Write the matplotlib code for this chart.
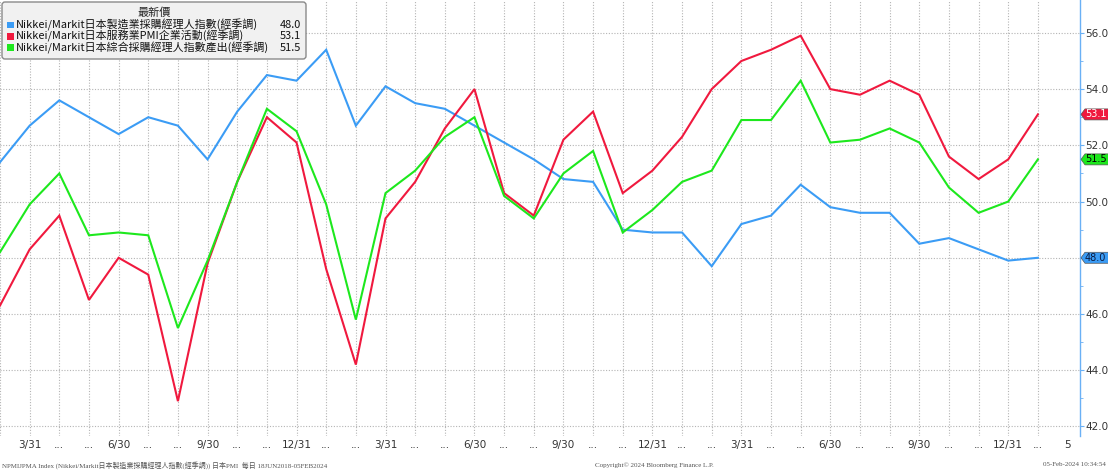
import numpy as np
import matplotlib.pyplot as plt
from matplotlib.patches import FancyBboxPatch, Polygon, Rectangle

plt.rcParams['font.family'] = ['DejaVu Sans', 'Noto Sans CJK TC']

# Monthly PMI readings, Feb 2021 .. Jan 2024
months = ['2021-02', '2021-03', '2021-04', '2021-05', '2021-06', '2021-07',
          '2021-08', '2021-09', '2021-10', '2021-11', '2021-12', '2022-01',
          '2022-02', '2022-03', '2022-04', '2022-05', '2022-06', '2022-07',
          '2022-08', '2022-09', '2022-10', '2022-11', '2022-12', '2023-01',
          '2023-02', '2023-03', '2023-04', '2023-05', '2023-06', '2023-07',
          '2023-08', '2023-09', '2023-10', '2023-11', '2023-12', '2024-01']
mfg = [51.4, 52.7, 53.6, 53.0, 52.4, 53.0, 52.7, 51.5, 53.2, 54.5, 54.3, 55.4,
       52.7, 54.1, 53.5, 53.3, 52.7, 52.1, 51.5, 50.8, 50.7, 49.0, 48.9, 48.9,
       47.7, 49.2, 49.5, 50.6, 49.8, 49.6, 49.6, 48.5, 48.7, 48.3, 47.9, 48.0]
svc = [46.3, 48.3, 49.5, 46.5, 48.0, 47.4, 42.9, 47.8, 50.7, 53.0, 52.1, 47.6,
       44.2, 49.4, 50.7, 52.6, 54.0, 50.3, 49.5, 52.2, 53.2, 50.3, 51.1, 52.3,
       54.0, 55.0, 55.4, 55.9, 54.0, 53.8, 54.3, 53.8, 51.6, 50.8, 51.5, 53.1]
comp = [48.2, 49.9, 51.0, 48.8, 48.9, 48.8, 45.5, 47.9, 50.7, 53.3, 52.5, 49.9,
        45.8, 50.3, 51.1, 52.3, 53.0, 50.2, 49.4, 51.0, 51.8, 48.9, 49.7, 50.7,
        51.1, 52.9, 52.9, 54.3, 52.1, 52.2, 52.6, 52.1, 50.5, 49.6, 50.0, 51.5]

names = ['Nikkei/Markit日本製造業採購經理人指數(經季調)',
         'Nikkei/Markit日本服務業PMI企業活動(經季調)',
         'Nikkei/Markit日本綜合採購經理人指數產出(經季調)']
latest = [48.0, 53.1, 51.5]
colors = ['#3b9cf5', '#f0193e', '#1de81d']
badge_text = ['#0a1a40', 'white', 'black']

x_labels = ['3/31', '...', '...', '6/30', '...', '...', '9/30', '...', '...',
            '12/31', '...', '...', '3/31', '...', '...', '6/30', '...', '...',
            '9/30', '...', '...', '12/31', '...', '...', '3/31', '...', '...',
            '6/30', '...', '...', '9/30', '...', '...', '12/31', '...', '5']

W, H = 1108, 470
fig = plt.figure(figsize=(W / 100, H / 100), dpi=100)
ax = fig.add_axes([0, (H - 436) / H, 1080 / W, 436 / H])

x = np.arange(len(months))
for vals, c in zip([mfg, svc, comp], colors):
  ax.plot(x, vals, color=c, lw=1.5, solid_joinstyle='miter', zorder=3)

ax.set_xlim(0.02, 36.42)
ax.set_ylim(41.66, 57.17)

# grid (minor x ticks sit on the data months, major ones carry the labels)
ax.xaxis.remove_overlapping_locs = False
ax.set_xticks(x, minor=True)
ax.set_xticks(np.arange(1, len(x_labels) + 1))
ax.set_xticklabels(x_labels)
ax.set_yticks(np.arange(42, 57, 2))
ax.set_yticks(np.arange(43, 57, 2), minor=True)
# the 48.0 label sits under the blue badge, so leave it blank
ax.yaxis.set_major_formatter(plt.FuncFormatter(
  lambda v, p: '' if any(abs(v - l) < 0.3 for l in latest) else '%.1f' % v))
ax.grid(True, which='minor', axis='x', color='#b4b4b4', ls=(0, (1, 1.5)), lw=0.8)
ax.grid(False, which='major', axis='x')
ax.grid(True, which='major', axis='y', color='#b4b4b4', ls=(0, (1, 1.5)), lw=0.8)

for s in ['left', 'top', 'bottom']:
  ax.spines[s].set_visible(False)
ax.spines['right'].set_color('#6ab0f5')
ax.spines['right'].set_linewidth(1.0)
ax.yaxis.tick_right()
ax.tick_params(axis='y', which='major', direction='out', length=3, color='#6ab0f5',
               labelsize=7.5, labelcolor='#333333', pad=1)
ax.tick_params(axis='y', which='minor', direction='out', length=2, color='#6ab0f5')
ax.tick_params(axis='x', which='both', length=0, labelsize=7.5, labelcolor='#333333', pad=3)

# value badges on the right axis
fig.canvas.draw()
x0 = ax.transAxes.transform((1, 0))[0]
for v, c, tc in zip(latest, colors, badge_text):
  yd = ax.transData.transform((0, v))[1]
  h = 5.5
  verts = [(x0 + 1, yd), (x0 + 5, yd + h), (W + 5, yd + h), (W + 5, yd - h), (x0 + 5, yd - h)]
  fig.add_artist(Polygon([(a / 100, b / 100) for a, b in verts], closed=True,
                         facecolor=c, edgecolor='#555555', lw=0.5,
                         transform=fig.dpi_scale_trans, zorder=8))
  fig.text((x0 + 5) / 100, yd / 100, '%.1f' % v, transform=fig.dpi_scale_trans,
           fontsize=7, color=tc, va='center', ha='left', zorder=9)

# legend box
def pt(px, py):
  return px / 100, (H - py) / 100

fig.add_artist(FancyBboxPatch(pt(2, 59), 3.04, 0.57,
                              boxstyle='round,pad=0,rounding_size=0.03',
                              facecolor='#f1f1f1', edgecolor='#8a8a8a', lw=1.0,
                              transform=fig.dpi_scale_trans, zorder=5))
lfont = ['Noto Sans CJK TC', 'DejaVu Sans']
tx, ty = pt(154, 13)
fig.text(tx, ty, '最新價', transform=fig.dpi_scale_trans, fontsize=8,
         ha='center', va='center', color='#222222', zorder=6, family=lfont)
for i, (n, v, c) in enumerate(zip(names, latest, colors)):
  yrow = 25 + i * 11.3
  fig.add_artist(Rectangle(pt(7, yrow + 3.2), 0.065, 0.065, facecolor=c,
                           edgecolor='none', transform=fig.dpi_scale_trans, zorder=6))
  tx, ty = pt(16, yrow)
  fig.text(tx, ty, n, transform=fig.dpi_scale_trans, fontsize=7.9, ha='left',
           va='center', color='#111111', zorder=6, family=lfont)
  tx, ty = pt(301, yrow)
  fig.text(tx, ty, '%.1f' % v, transform=fig.dpi_scale_trans, fontsize=7.9,
           ha='right', va='center', color='#111111', zorder=6, family=lfont)

# footer
foot = dict(transform=fig.dpi_scale_trans, fontsize=5, color='#555555', va='center',
            family=['Liberation Serif', 'Noto Sans CJK TC'])
tx, ty = pt(2, 465)
fig.text(tx, ty, 'NPMIJPMA Index (Nikkei/Markit日本製造業採購經理人指數(經季調)) 日本PMI  每日 18JUN2018-05FEB2024',
         ha='left', **foot)
tx, ty = pt(654, 465)
fig.text(tx, ty, 'Copyright© 2024 Bloomberg Finance L.P.', ha='center', **foot)
tx, ty = pt(1106, 465)
fig.text(tx, ty, '05-Feb-2024 10:34:54', ha='right', **foot)

fig.savefig('out.png', dpi=100)
